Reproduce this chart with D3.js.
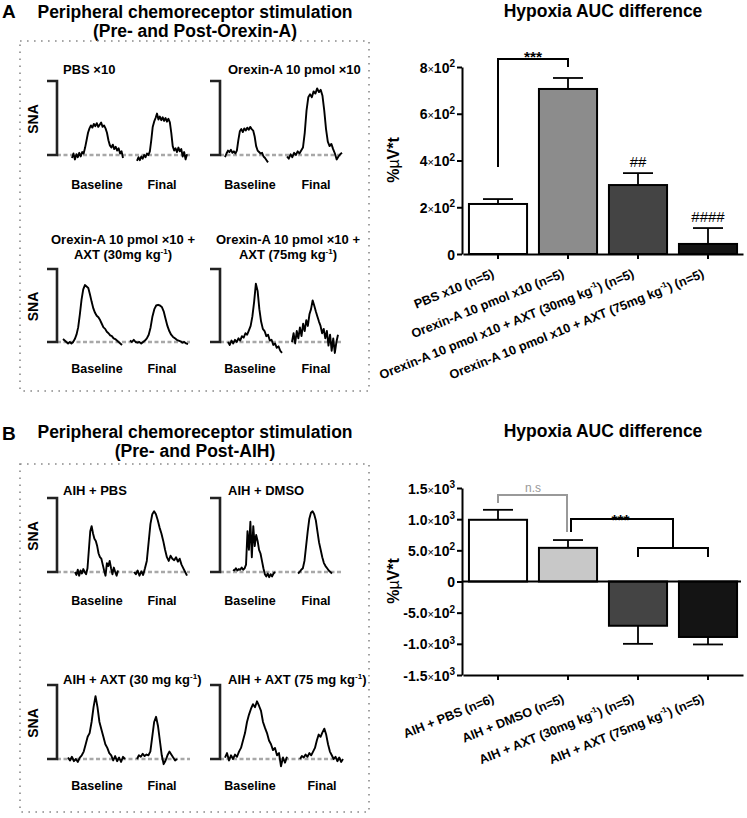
<!DOCTYPE html>
<html><head><meta charset="utf-8">
<script src="https://cdn.jsdelivr.net/npm/d3@7"></script>
<style>
body{margin:0;background:#fff}
svg{display:block}
text{font-family:"Liberation Sans",Arial,Helvetica,sans-serif}
</style>
</head><body>
<svg id="fig" width="747" height="818"></svg>
<script>
// ================= DATA =================
// Panel A bar chart
const categoriesA = ["PBS x10 (n=5)", "Orexin-A 10 pmol x10 (n=5)",
  "Orexin-A 10 pmol x10 + AXT (30mg kg^{-1}) (n=5)", "Orexin-A 10 pmol x10 + AXT (75mg kg^{-1}) (n=5)"];
const valuesA = [214, 706, 295, 43];
const errorsA = [21, 47, 51, 68];
const ticksA = [0, 200, 400, 600, 800];
const tickLabelsA = ["0", "2×10^2", "4×10^2", "6×10^2", "8×10^2"];

// Panel B bar chart
const categoriesB = ["AIH + PBS (n=6)", "AIH + DMSO (n=5)",
  "AIH + AXT (30mg kg^{-1}) (n=5)", "AIH + AXT (75mg kg^{-1}) (n=5)"];
const valuesB = [990, 540, -710, -890];
const errorsB = [160, 125, 290, 120];
const ticksB = [-1500, -1000, -500, 0, 500, 1000, 1500];
const tickLabelsB = ["-1.5×10^3", "-1.0×10^3", "-5.0×10^2", "0", "5.0×10^2", "1.0×10^3", "1.5×10^3"];

// SNA traces (fraction of scale bar height; [baseline, final])
const snaPBS = [
  [-0.04,0.02,-0.06,0.01,-0.03,0.03,-0.02,0.04,0.02,0.10,0.20,0.30,0.36,0.40,0.37,0.42,0.39,0.43,0.38,0.41,0.44,0.38,0.40,0.36,0.30,0.20,0.13,0.10,0.14,0.08,0.11,0.06,0.09,0.02,0.05,-0.04],
  [-0.08,-0.03,-0.07,-0.02,-0.05,0.00,-0.03,0.02,0.00,0.05,0.20,0.38,0.45,0.50,0.56,0.48,0.52,0.47,0.51,0.46,0.50,0.45,0.49,0.44,0.30,0.12,0.06,0.09,0.04,0.10,0.05,0.08,-0.02,0.04,-0.06,0.01]
];
const snaOrexin = [
  [-0.03,0.02,0.06,0.04,0.07,0.03,0.05,0.02,0.06,0.20,0.32,0.35,0.31,0.36,0.33,0.37,0.34,0.38,0.35,0.33,0.25,0.12,0.06,0.04,0.02,0.03,-0.02,-0.04,-0.07,-0.10],
  [-0.02,-0.05,0.01,-0.03,0.03,0.00,0.05,0.02,0.06,0.10,0.30,0.60,0.78,0.82,0.78,0.86,0.83,0.90,0.85,0.88,0.80,0.60,0.35,0.18,0.12,0.15,0.08,0.02,-0.06,-0.02,0.01,0.03]
];
const snaOrexinAXT30 = [
  [0.04,0.02,0.00,-0.02,0.00,-0.02,0.00,0.04,0.10,0.20,0.38,0.58,0.72,0.78,0.76,0.74,0.65,0.55,0.46,0.40,0.36,0.34,0.30,0.25,0.20,0.18,0.14,0.12,0.09,0.08,0.05,0.04,0.02,0.00,-0.02,-0.04],
  [0.02,0.00,0.03,0.00,-0.01,0.00,-0.02,0.00,0.02,0.05,0.10,0.20,0.35,0.45,0.50,0.51,0.50,0.48,0.42,0.32,0.22,0.15,0.10,0.07,0.05,0.03,0.02,0.01,-0.01,0.00,-0.02,-0.03]
];
const snaOrexinAXT75 = [
  [0.00,-0.04,0.02,-0.02,0.03,0.00,0.05,0.02,0.08,0.06,0.12,0.10,0.16,0.22,0.35,0.55,0.80,0.70,0.45,0.28,0.18,0.15,0.08,0.10,0.02,0.03,-0.04,-0.02,-0.08,-0.06,-0.12,-0.15],
  [0.00,0.12,-0.02,0.15,0.05,0.20,0.08,0.25,0.15,0.30,0.22,0.38,0.45,0.57,0.50,0.42,0.35,0.28,0.22,0.12,0.18,0.05,0.15,-0.05,0.10,-0.12,0.05,-0.15,0.00,0.10]
];
const snaAIHPBS = [
  [0.00,-0.04,0.03,-0.05,0.02,-0.02,0.04,0.00,-0.03,0.05,0.30,0.55,0.62,0.52,0.45,0.42,0.35,0.25,0.20,0.18,0.10,0.02,-0.05,0.12,0.08,0.15,0.05,-0.03,0.06,0.00,-0.05,0.02],
  [0.00,-0.03,0.02,-0.05,0.01,-0.04,0.05,0.15,0.40,0.65,0.78,0.82,0.78,0.70,0.60,0.52,0.42,0.30,0.20,0.15,0.22,0.18,0.16,0.20,0.14,0.18,0.10,0.05,0.00,-0.05]
];
const snaAIHDMSO = [
  [0.03,0.02,0.05,0.02,0.04,0.03,0.06,0.03,0.05,0.10,0.55,0.30,0.68,0.20,0.62,0.35,0.50,0.42,0.30,0.25,0.15,0.05,-0.03,-0.06,-0.02,-0.07,-0.03,-0.06,-0.02,0.00],
  [-0.02,0.00,0.03,0.05,0.15,0.35,0.55,0.72,0.80,0.82,0.78,0.70,0.55,0.40,0.30,0.20,0.12,0.08,0.05,0.02,0.00,-0.02]
];
const snaAIHAXT30 = [
  [0.02,-0.02,0.03,-0.03,0.00,-0.04,0.02,0.05,0.10,0.20,0.30,0.35,0.50,0.70,0.85,0.70,0.50,0.40,0.30,0.20,0.15,0.08,0.05,-0.02,0.04,-0.03,0.02,-0.04,0.03,0.00],
  [0.00,0.05,0.03,0.07,0.04,0.06,0.05,0.10,0.30,0.50,0.57,0.45,0.25,0.05,-0.07,-0.02,0.05,0.10,0.06,0.02,-0.02,0.00]
];
const snaAIHAXT75 = [
  [0.02,0.08,-0.02,0.05,0.00,0.06,0.03,0.10,0.15,0.25,0.35,0.50,0.60,0.68,0.74,0.70,0.78,0.72,0.65,0.50,0.42,0.35,0.25,0.20,0.12,0.15,0.05,0.08,-0.10,0.02,-0.05,0.03],
  [0.00,0.04,0.02,0.06,0.03,0.08,0.05,0.10,0.15,0.25,0.33,0.30,0.36,0.41,0.33,0.20,0.10,0.05,0.00,0.03,-0.03,0.02,-0.04,0.00]
];

// ================= DRAWING =================
const svg = d3.select("#fig");
const FONT = '"Liberation Sans",Arial,Helvetica,sans-serif';

function rich(textSel, str, fs) {
  const parts = str.split(/\^\{([^}]*)\}/);
  let raised = false;
  parts.forEach((p, i) => {
    if (p === "") return;
    const t = textSel.append("tspan").text(p);
    if (i % 2 === 1) { t.attr("font-size", fs * 0.62).attr("dy", -fs * 0.42); raised = true; }
    else if (raised) { t.attr("dy", fs * 0.42); raised = false; }
  });
}

function txt(x, y, s, fs, weight, anchor) {
  return svg.append("text").attr("x", x).attr("y", y).attr("font-size", fs)
    .attr("font-weight", weight || "bold").attr("text-anchor", anchor || "start").text(s);
}
txt(2, 18, "A", 19);
txt(195, 18, "Peripheral chemoreceptor stimulation", 17.5, "bold", "middle");
txt(195, 37, "(Pre- and Post-Orexin-A)", 17.5, "bold", "middle");
txt(603, 17, "Hypoxia AUC difference", 17.5, "bold", "middle");
txt(2, 440, "B", 19);
txt(195, 438, "Peripheral chemoreceptor stimulation", 17.5, "bold", "middle");
txt(195, 457, "(Pre- and Post-AIH)", 17.5, "bold", "middle");
txt(603, 437, "Hypoxia AUC difference", 17.5, "bold", "middle");

// dotted frames
[[20, 41, 369, 391], [20, 464, 369, 812]].forEach(([x0, y0, x1, y1]) => {
  svg.append("rect").attr("x", x0).attr("y", y0).attr("width", x1 - x0).attr("height", y1 - y0)
    .attr("fill", "none").attr("stroke", "#8a8a8a").attr("stroke-width", 1.6)
    .attr("stroke-dasharray", "1.6,5.4");
});

// trace sub-panels
function subPanel(spec) {
  const g = svg.append("g");
  const y = d3.scaleLinear().domain([0, 1]).range([spec.bottom, spec.top]);
  g.append("line").attr("x1", spec.bx).attr("x2", spec.dotEnd)
    .attr("y1", spec.bottom).attr("y2", spec.bottom)
    .attr("stroke", "#a8a8a8").attr("stroke-width", 2.6).attr("stroke-dasharray", "4,2.5");
  g.append("path").attr("d", `M${spec.bx - 10},${spec.top}H${spec.bx}V${spec.bottom}H${spec.bx - 10}`)
    .attr("fill", "none").attr("stroke", "#222").attr("stroke-width", 2.6);
  spec.data.forEach((d, k) => {
    const [x0, x1] = spec.spans[k];
    const x = d3.scaleLinear().domain([0, d.length - 1]).range([x0, x1]);
    g.append("path").datum(d)
      .attr("d", d3.line().x((v, i) => x(i)).y(v => y(v)))
      .attr("fill", "none").attr("stroke", "#000").attr("stroke-width", 1.9)
      .attr("stroke-linejoin", "round");
  });
  ["Baseline", "Final"].forEach((s, k) => {
    g.append("text").attr("x", spec.labX[k]).attr("y", spec.labY).attr("font-size", 12.5)
      .attr("font-weight", "bold").attr("text-anchor", "middle").text(s);
  });
  spec.title.forEach((line, k) => {
    const t = g.append("text").attr("x", spec.tx).attr("y", spec.ty + k * 15)
      .attr("font-size", 13).attr("font-weight", "bold").attr("text-anchor", spec.tAnchor);
    rich(t, line, 13);
  });
  if (spec.sna) {
    g.append("text").attr("transform", `translate(38,${(spec.top + spec.bottom) / 2 + 1}) rotate(-90)`)
      .attr("font-size", 14).attr("font-weight", "bold").attr("text-anchor", "middle").text("SNA");
  }
}

const L = { bx: 57, dotEnd: 190, labX: [97, 162], sna: true };
const R = { bx: 220, dotEnd: 343, labX: [250, 316], sna: false };

subPanel({ ...L, top: 81, bottom: 155, labY: 189, data: snaPBS, spans: [[72, 123], [137, 187]],
  title: ["PBS ×10"], tx: 63, ty: 74, tAnchor: "start" });
subPanel({ ...R, top: 81, bottom: 155, labY: 189, data: snaOrexin, spans: [[225, 268], [287, 342]],
  title: ["Orexin-A 10 pmol ×10"], tx: 228, ty: 74, tAnchor: "start" });
subPanel({ ...L, top: 269, bottom: 342, labY: 373, data: snaOrexinAXT30, spans: [[63, 122], [130, 188]],
  title: ["Orexin-A 10 pmol ×10 +", "AXT (30mg kg^{-1})"], tx: 123, ty: 244, tAnchor: "middle" });
subPanel({ ...R, top: 269, bottom: 342, labY: 373, dotEnd: 342, data: snaOrexinAXT75, spans: [[228, 282], [292, 338]],
  title: ["Orexin-A 10 pmol ×10 +", "AXT (75mg kg^{-1})"], tx: 288, ty: 244, tAnchor: "middle" });
subPanel({ ...L, top: 498, bottom: 572, labY: 605, data: snaAIHPBS, spans: [[75, 118], [134, 187]],
  title: ["AIH + PBS"], tx: 63, ty: 495, tAnchor: "start" });
subPanel({ ...R, top: 498, bottom: 572, labY: 605, data: snaAIHDMSO, spans: [[233, 275], [298, 332]],
  title: ["AIH + DMSO"], tx: 228, ty: 495, tAnchor: "start" });
subPanel({ ...L, top: 685, bottom: 759, labY: 790, data: snaAIHAXT30, spans: [[68, 125], [137, 177]],
  title: ["AIH + AXT (30 mg kg^{-1})"], tx: 63, ty: 684, tAnchor: "start" });
subPanel({ ...R, top: 685, bottom: 759, labY: 790, labX: [250, 322], data: snaAIHAXT75, spans: [[225, 287], [300, 343]],
  title: ["AIH + AXT (75 mg kg^{-1})"], tx: 228, ty: 684, tAnchor: "start" });

// bar charts
function barChart(opt) {
  const g = svg.append("g");
  const x = d3.scaleBand().domain(opt.cats).range([463, 743]).paddingInner(0.17).paddingOuter(0.085);
  const y = d3.scaleLinear().domain(opt.domain).range(opt.range);
  const axisY = y(opt.domain[0]);

  g.selectAll("rect.bar").data(opt.cats).join("rect").attr("class", "bar")
    .attr("x", d => x(d)).attr("width", x.bandwidth())
    .attr("y", (d, i) => y(Math.max(0, opt.values[i])))
    .attr("height", (d, i) => Math.abs(y(opt.values[i]) - y(0)))
    .attr("fill", (d, i) => opt.colors[i]).attr("stroke", "#000").attr("stroke-width", 2);

  opt.cats.forEach((c, i) => {
    const cx = x(c) + x.bandwidth() / 2;
    const v = opt.values[i], e = opt.errors[i] * Math.sign(v || 1);
    g.append("line").attr("x1", cx).attr("x2", cx).attr("y1", y(v)).attr("y2", y(v + e))
      .attr("stroke", "#000").attr("stroke-width", 1.8);
    g.append("line").attr("x1", cx - 15).attr("x2", cx + 15).attr("y1", y(v + e)).attr("y2", y(v + e))
      .attr("stroke", "#000").attr("stroke-width", 1.8);
  });

  if (opt.zeroLine) {
    g.append("line").attr("x1", 462).attr("x2", 741).attr("y1", y(0)).attr("y2", y(0))
      .attr("stroke", "#000").attr("stroke-width", 2);
  }

  const ya = g.append("g").attr("transform", "translate(462,0)")
    .call(d3.axisLeft(y).tickValues(opt.ticks).tickSize(5).tickSizeOuter(0).tickFormat(""));
  ya.selectAll("path,line").attr("stroke", "#000").attr("stroke-width", 2);
  ya.selectAll(".tick").each(function (d, i) {
    const lab = opt.tickLabels[i];
    const t = d3.select(this).append("text").attr("x", -7).attr("dy", "0.36em")
      .attr("fill", "#000").attr("font-size", 14).attr("font-weight", "bold")
      .attr("text-anchor", "end").attr("font-family", FONT);
    if (lab.indexOf("×") < 0) { t.text(lab); return; }
    const [mant, rest] = lab.split("×");
    const [base, ex] = rest.split("^");
    t.append("tspan").text(mant);
    t.append("tspan").attr("font-weight", "normal").attr("font-size", 11).text("×");
    t.append("tspan").text(base);
    t.append("tspan").attr("font-size", 10).attr("dy", -5.5).text(ex);
  });

  const xa = g.append("g").attr("transform", `translate(0,${axisY})`)
    .call(d3.axisBottom(x).tickSize(5).tickSizeOuter(0).tickFormat(""));
  xa.selectAll("path,line").attr("stroke", "#000").attr("stroke-width", 2);
  opt.cats.forEach(c => {
    const cx = x(c) + x.bandwidth() / 2;
    const t = g.append("text")
      .attr("transform", `translate(${cx - 3},${axisY + opt.labOff}) rotate(-22)`)
      .attr("text-anchor", "end").attr("font-size", 12.7).attr("font-weight", "bold");
    rich(t, c, 12.7);
  });

  const yl = g.append("text").attr("transform", `translate(399,${opt.yLabY}) rotate(-90)`)
    .attr("text-anchor", "middle").attr("font-size", 16).attr("font-weight", "bold");
  yl.append("tspan").text("%");
  yl.append("tspan").attr("font-weight", "normal").text("µ");
  yl.append("tspan").text("V*t");
  return { g, x, y };
}

const A = barChart({ cats: categoriesA, values: valuesA, errors: errorsA, domain: [0, 800], range: [254, 67],
  ticks: ticksA, tickLabels: tickLabelsA, colors: ["#ffffff", "#8c8c8c", "#444444", "#141414"],
  labOff: 23, yLabY: 160 });
const B = barChart({ cats: categoriesB, values: valuesB, errors: errorsB, domain: [-1500, 1500], range: [675, 488],
  ticks: ticksB, tickLabels: tickLabelsB, colors: ["#ffffff", "#c8c8c8", "#444444", "#141414"],
  labOff: 27, yLabY: 581, zeroLine: true });

function cxOf(ch, i) { return ch.x(ch.x.domain()[i]) + ch.x.bandwidth() / 2; }

// Panel A annotations
(function () {
  const x1 = cxOf(A, 0), x2 = cxOf(A, 1);
  A.g.append("path").attr("d", `M${x1},167V59H${x2}V67`).attr("fill", "none")
    .attr("stroke", "#000").attr("stroke-width", 2);
  A.g.append("text").attr("x", (x1 + x2) / 2).attr("y", 62).attr("text-anchor", "middle")
    .attr("font-size", 15.5).attr("font-weight", "bold").text("***");
  A.g.append("text").attr("x", cxOf(A, 2)).attr("y", 167).attr("text-anchor", "middle")
    .attr("font-size", 15).text("##");
  A.g.append("text").attr("x", cxOf(A, 3)).attr("y", 222).attr("text-anchor", "middle")
    .attr("font-size", 15).text("####");
})();

// Panel B annotations
(function () {
  const x1 = cxOf(B, 0), x2 = cxOf(B, 1), x3 = cxOf(B, 2), x4 = cxOf(B, 3);
  B.g.append("path").attr("d", `M${x1},503V495H${x2 - 1}V532`).attr("fill", "none")
    .attr("stroke", "#999").attr("stroke-width", 2);
  B.g.append("text").attr("x", (x1 + x2) / 2).attr("y", 492).attr("text-anchor", "middle")
    .attr("font-size", 12).attr("fill", "#999").text("n.s");
  const xr = (x3 + x4) / 2;
  B.g.append("path").attr("d", `M${x2 + 3},532V519H${xr}V548`).attr("fill", "none")
    .attr("stroke", "#000").attr("stroke-width", 2);
  B.g.append("path").attr("d", `M${x3},557V548H${x4}V557`).attr("fill", "none")
    .attr("stroke", "#000").attr("stroke-width", 2);
  B.g.append("text").attr("x", (x2 + xr) / 2).attr("y", 525).attr("text-anchor", "middle")
    .attr("font-size", 15.5).attr("font-weight", "bold").text("***");
})();
</script>
</body></html>
